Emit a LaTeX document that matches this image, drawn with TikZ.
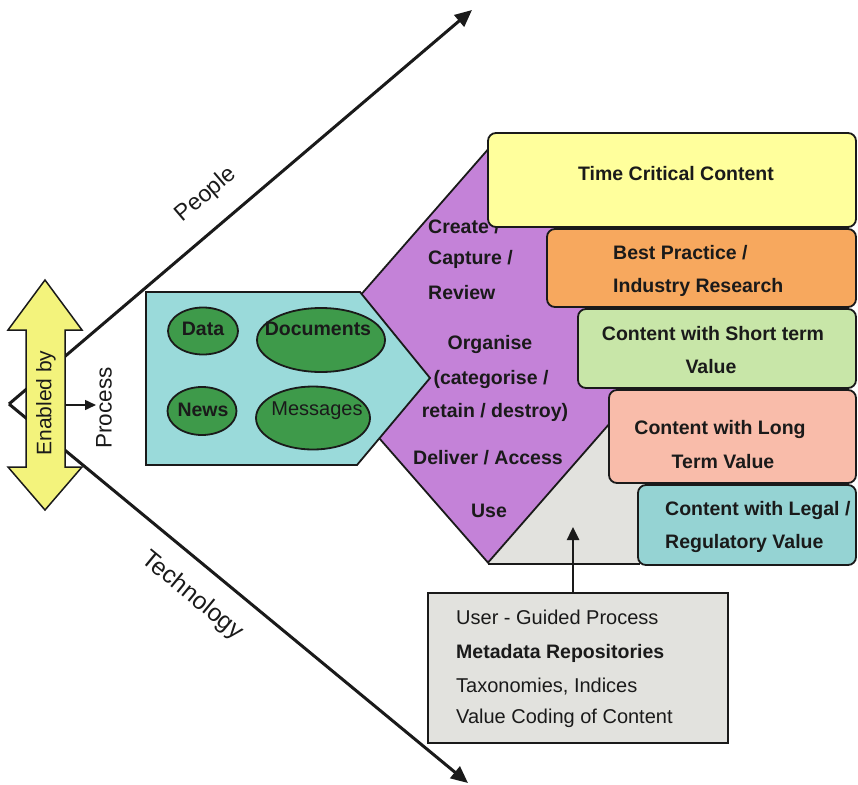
\documentclass[tikz,border=0pt]{standalone}
\usepackage{fontspec}
\setmainfont{Liberation Sans}
\usetikzlibrary{arrows.meta,shapes.geometric}

\definecolor{ink}{HTML}{1A1A1A}
\definecolor{arrowyellow}{HTML}{F3F37C}
\definecolor{boxyellow}{HTML}{FFFF9C}
\definecolor{boxorange}{HTML}{F7A85E}
\definecolor{boxgreen}{HTML}{C8E6A8}
\definecolor{boxpink}{HTML}{F9BCAA}
\definecolor{boxteal}{HTML}{95D3D3}
\definecolor{sourceteal}{HTML}{9ADADA}
\definecolor{cyclepurple}{HTML}{C482D8}
\definecolor{blobgreen}{HTML}{3E9A4A}
\definecolor{panelgrey}{HTML}{E2E2DE}

\begin{document}
\begin{tikzpicture}[x=1pt,y=-1pt,
  txt/.style={inner sep=0pt, text height=14pt, text depth=0pt,
    font=\fontsize{20}{23}\selectfont, text=ink},
  btxt/.style={txt, font=\fontsize{19.5}{23}\selectfont\bfseries},
  lbl/.style={inner sep=0pt, text=ink, font=\fontsize{#1}{26}\selectfont},
  axis/.style={draw=ink, line width=3pt, -{Triangle[length=17pt,width=15pt]}},
  cbox/.style={draw=ink, line width=1.8pt, rounded corners=8pt, inner sep=0pt},
  blob/.style={ellipse, draw=ink, line width=1.8pt, fill=blobgreen, inner sep=0pt},
]
\useasboundingbox (0,0) rectangle (858,784);

% the People / Technology axes
\coordinate (v) at (9,404);
\coordinate (ptip) at (472,10);
\coordinate (ttip) at (468,783);
\draw[axis] (v) -- (ptip);
\draw[axis] (v) -- (ttip);
\node[lbl=23, rotate=40.4] (people) at (206,195) {People};
\node[lbl=24.5, rotate=-39.5] (tech) at (192,596) {Technology};

% grey panel behind the cycle
\fill[panelgrey] (488,564) -- (620,412) -- (645,412) -- (645,564) -- cycle;
\draw[ink, line width=1.8pt] (488,564) -- (640,564);

% content life-cycle diamond
\node[diamond, draw=ink, line width=1.8pt, fill=cyclepurple, inner sep=0pt,
  minimum width=362pt, minimum height=414pt] (cycle) at (488,356) {};
\node[btxt, anchor=west] (create) at (428,226) {Create /};
\node[btxt, anchor=west] (capture) at (428,257) {Capture /};
\node[btxt, anchor=west] (review) at (428,292) {Review};
\node[btxt] (organise) at (490,342) {Organise};
\node[btxt] (categorise) at (491,377) {(categorise /};
\node[btxt] (retain) at (495,410) {retain / destroy)};
\node[btxt] (deliver) at (488,457) {Deliver / Access};
\node[btxt] (use) at (489,510) {Use};

% information sources
\draw[ink, line width=1.8pt, fill=sourceteal]
  (146,292) -- (360,292) -- (430,378) -- (357,465) -- (146,465) -- cycle;
\node[blob, minimum width=70pt, minimum height=47pt] (data) at (203,331) {};
\node[blob, minimum width=128pt, minimum height=64pt] (docs) at (321,340) {};
\node[blob, minimum width=69pt, minimum height=48pt] (news) at (202,411) {};
\node[blob, minimum width=114pt, minimum height=63pt] (msgs) at (313,418) {};
\node[btxt] (datat) at (203,328) {Data};
\node[btxt] (docst) at (318,328) {Documents};
\node[btxt] (newst) at (203,409) {News};
\node[txt] (msgst) at (317,408) {Messages};

% value categories
\node[cbox, fill=boxyellow, minimum width=368pt, minimum height=94pt] (tcc) at (672,180) {};
\node[btxt] (tcct) at (676,173) {Time Critical Content};
\node[cbox, fill=boxorange, minimum width=309pt, minimum height=78pt] (bp) at (701.5,268) {};
\node[btxt, anchor=west] (bpa) at (613,252) {Best Practice /};
\node[btxt, anchor=west] (bpb) at (613,285) {Industry Research};
\node[cbox, fill=boxgreen, minimum width=278pt, minimum height=79pt] (st) at (717,348.5) {};
\node[btxt] (sta) at (713,333) {Content with Short term};
\node[btxt] (stb) at (711,366) {Value};
\node[cbox, fill=boxpink, minimum width=247pt, minimum height=93pt] (lt) at (732.5,436.5) {};
\node[btxt] (lta) at (720,427) {Content with Long};
\node[btxt] (ltb) at (723,461) {Term Value};
\node[cbox, fill=boxteal, minimum width=218pt, minimum height=80pt] (lg) at (747,525) {};
\node[btxt, anchor=west] (lga) at (665,508) {Content with Legal /};
\node[btxt, anchor=west] (lgb) at (665,541) {Regulatory Value};

% enabling tools
\node[draw=ink, line width=1.8pt, fill=panelgrey, inner sep=0pt,
  minimum width=300pt, minimum height=150pt] (tools) at (578,668) {};
\node[txt, anchor=west] (ta) at (456,617) {User - Guided Process};
\node[btxt, anchor=west] (tb) at (456,651) {Metadata Repositories};
\node[txt, anchor=west] (tc) at (456,685) {Taxonomies, Indices};
\node[txt, anchor=west] (td) at (456,716) {Value Coding of Content};
\coordinate (toolstip) at (573,527);
\draw[ink, line width=2.5pt, -{Triangle[length=13pt,width=12pt]}]
  (tools.north -| toolstip) -- (toolstip);

% enabled-by double arrow
\draw[ink, line width=1.5pt, fill=arrowyellow]
  (45,280) -- (82,330) -- (65,330) -- (65,467) -- (82,467) -- (45,510)
  -- (8,467) -- (26,467) -- (26,330) -- (8,330) -- cycle;
\node[lbl=21, rotate=90] (enabled) at (46,403) {Enabled by};
\coordinate (shaft) at (65,405);
\coordinate (ptipsmall) at (96,405);
\draw[ink, line width=1.5pt, -{Triangle[length=11pt,width=10pt]}] (shaft) -- (ptipsmall);
\node[lbl=22.5, rotate=90] (process) at (104,408) {Process};
\end{tikzpicture}
\end{document}
